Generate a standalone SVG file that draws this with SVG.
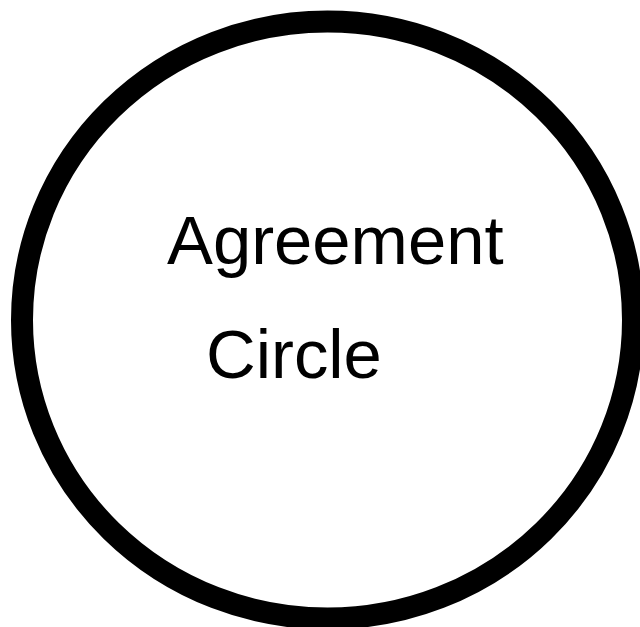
<svg xmlns="http://www.w3.org/2000/svg" width="640" height="627" viewBox="0 0 640 627">
<style>
.ring{fill:#fff;stroke:#000;stroke-width:22}
.lbl{font-family:"Liberation Sans",Arial,sans-serif;font-size:68.8px;fill:#000}
</style>
<rect width="640" height="627" fill="#fff"/>
<g id="agreement-circle">
<ellipse class="ring" cx="327.5" cy="320" rx="305.5" ry="298.5"/>
<text class="lbl" x="167" y="264">Agreement</text>
<text class="lbl" x="206" y="378">Circle</text>
</g>
<g id="connectors"/>
</svg>
